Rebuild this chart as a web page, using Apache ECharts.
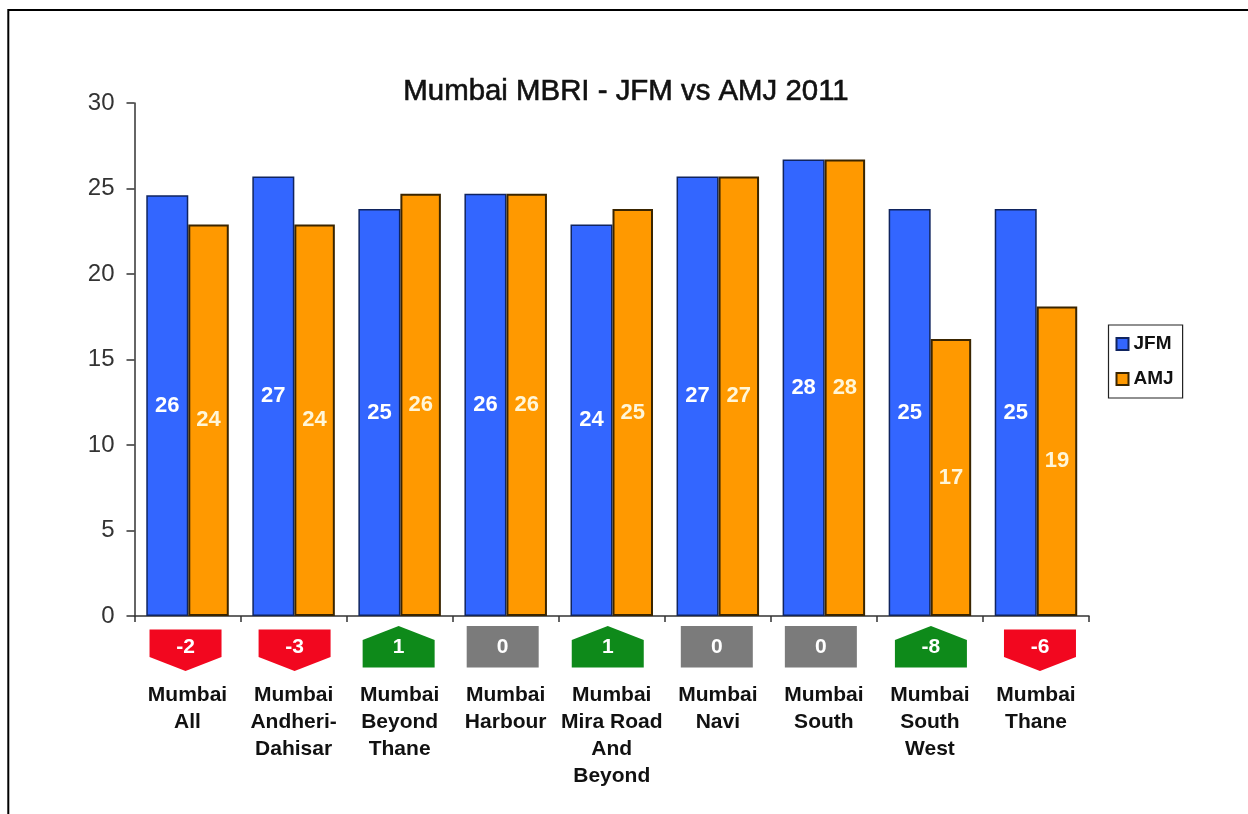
<!DOCTYPE html>
<html>
<head>
<meta charset="utf-8">
<title>Mumbai MBRI - JFM vs AMJ 2011</title>
<style>
html, body { margin: 0; padding: 0; background: #fff; }
#chart { width: 1248px; height: 814px; }
</style>
<script src="https://cdn.jsdelivr.net/npm/echarts@6/dist/echarts.min.js"></script>
</head>
<body>
<div id="chart"></div>
<script>
var categories = ["Mumbai\nAll", "Mumbai\nAndheri-\nDahisar", "Mumbai\nBeyond\nThane", "Mumbai\nHarbour", "Mumbai\nMira Road\nAnd\nBeyond", "Mumbai\nNavi", "Mumbai\nSouth", "Mumbai\nSouth\nWest", "Mumbai\nThane"];
var jfmValues = [24.6, 25.7, 23.8, 24.7, 22.9, 25.7, 26.7, 23.8, 23.8];
var amjValues = [22.9, 22.9, 24.7, 24.7, 23.8, 25.7, 26.7, 16.2, 18.1];
// the printed labels do not equal the bar heights in the picture
var jfmLabels = [26, 27, 25, 26, 24, 27, 28, 25, 25];
var amjLabels = [24, 24, 26, 26, 25, 27, 28, 17, 19];
var changeLabels = ["-2", "-3", "1", "0", "1", "0", "0", "-8", "-6"];
var changeKinds = ["down", "down", "up", "flat", "up", "flat", "flat", "up", "down"];

var fontName = '"Liberation Sans", Arial, sans-serif';
var kindColors = {down: "#f2071f", up: "#0e8a1a", flat: "#7b7b7b"};
// badges sit a little off the category centres in the original
var badgeNudge = [-2, 1, -1, -3, -4, -1, -3, 1, 4];

//draw one change badge under the axis
function renderbadge(params, api){
	var i = api.value(0);
	var origin = api.coord([i, 0]);
	var cx = origin[0] + badgeNudge[i];
	var y0 = origin[1];
	var kind = changeKinds[i];
	var l = cx - 36, r = cx + 36;
	var points;
	if(kind == "down"){
		points = [[l, y0 + 13.5], [r, y0 + 13.5], [r, y0 + 41], [cx, y0 + 55], [l, y0 + 41]];
	}else if(kind == "up"){
		points = [[cx, y0 + 10], [r, y0 + 24], [r, y0 + 51.5], [l, y0 + 51.5], [l, y0 + 24]];
	}else{
		points = [[l, y0 + 10], [r, y0 + 10], [r, y0 + 51.5], [l, y0 + 51.5]];
	}
	return {
		type: "group",
		children: [{
			type: "polygon",
			shape: {points: points},
			style: {fill: kindColors[kind]}
		}, {
			type: "text",
			style: {
				x: cx,
				y: y0 + 31,
				text: changeLabels[i],
				fill: "#fff",
				font: "bold 21px " + fontName,
				align: "center",
				verticalAlign: "middle"
			}
		}]
	};
}

var myChart = echarts.init(document.getElementById("chart"), null, {renderer: "canvas"});
myChart.setOption({
	animation: false,
	backgroundColor: "#fff",
	title: {
		text: "Mumbai MBRI - JFM vs AMJ 2011",
		left: 621,
		top: 72,
		textAlign: "center",
		textStyle: {fontFamily: fontName, fontSize: 29.4, fontWeight: "normal", color: "#111", textBorderColor: "#111", textBorderWidth: 0.6}
	},
	legend: {
		orient: "vertical",
		left: 1108.5,
		top: 325,
		padding: [9, 9, 9, 7],
		itemGap: 15,
		itemWidth: 12,
		itemHeight: 12,
		backgroundColor: "#fff",
		borderColor: "#222",
		borderWidth: 1.2,
		borderRadius: 0,
		icon: "rect",
		data: ["JFM", "AMJ"],
		textStyle: {fontFamily: fontName, fontSize: 19, fontWeight: "bold", color: "#111", lineHeight: 20}
	},
	grid: {left: 134.5, top: 103, width: 954.5, height: 513, containLabel: false},
	xAxis: {
		type: "category",
		data: categories,
		axisLine: {lineStyle: {color: "#333", width: 1.5}},
		axisTick: {show: true, length: 6, lineStyle: {color: "#333", width: 1.5}},
		axisLabel: {
			interval: 0,
			margin: 66,
			verticalAlign: "top",
			fontFamily: fontName,
			fontSize: 21,
			fontWeight: "bold",
			lineHeight: 27,
			color: "#111"
		}
	},
	yAxis: {
		type: "value",
		min: 0,
		max: 30,
		interval: 5,
		splitLine: {show: false},
		axisLine: {show: true, lineStyle: {color: "#333", width: 1.5}},
		axisTick: {show: true, length: 8, lineStyle: {color: "#333", width: 1.5}},
		axisLabel: {margin: 20, fontFamily: fontName, fontSize: 24, color: "#333", padding: [4, 0, 0, 0]}
	},
	series: [{
		name: "JFM",
		type: "bar",
		data: jfmValues,
		barWidth: 42,
		barGap: "0%",
		itemStyle: {color: "#3366ff", borderColor: "#10245f", borderWidth: 1.5},
		label: {
			show: true,
			position: "inside",
			formatter: function(p){ return jfmLabels[p.dataIndex]; },
			fontFamily: fontName,
			fontSize: 22,
			fontWeight: "bold",
			color: "#fff"
		}
	}, {
		name: "AMJ",
		type: "bar",
		data: amjValues,
		barWidth: 40.5,
		itemStyle: {color: "#ff9900", borderColor: "#3a2500", borderWidth: 2},
		label: {
			show: true,
			position: "inside",
			formatter: function(p){ return amjLabels[p.dataIndex]; },
			fontFamily: fontName,
			fontSize: 22,
			fontWeight: "bold",
			color: "#fff6d8"
		}
	}, {
		name: "change",
		type: "custom",
		silent: true,
		clip: false,
		renderItem: renderbadge,
		data: changeLabels.map(function(v, i){ return [i, 0]; })
	}],
	graphic: [{
		// frame of the original slide, top and left only
		type: "polyline",
		silent: true,
		shape: {points: [[8.3, 814], [8.3, 10], [1248, 10]]},
		style: {fill: null, stroke: "#000", lineWidth: 2}
	}]
});
</script>
</body>
</html>
